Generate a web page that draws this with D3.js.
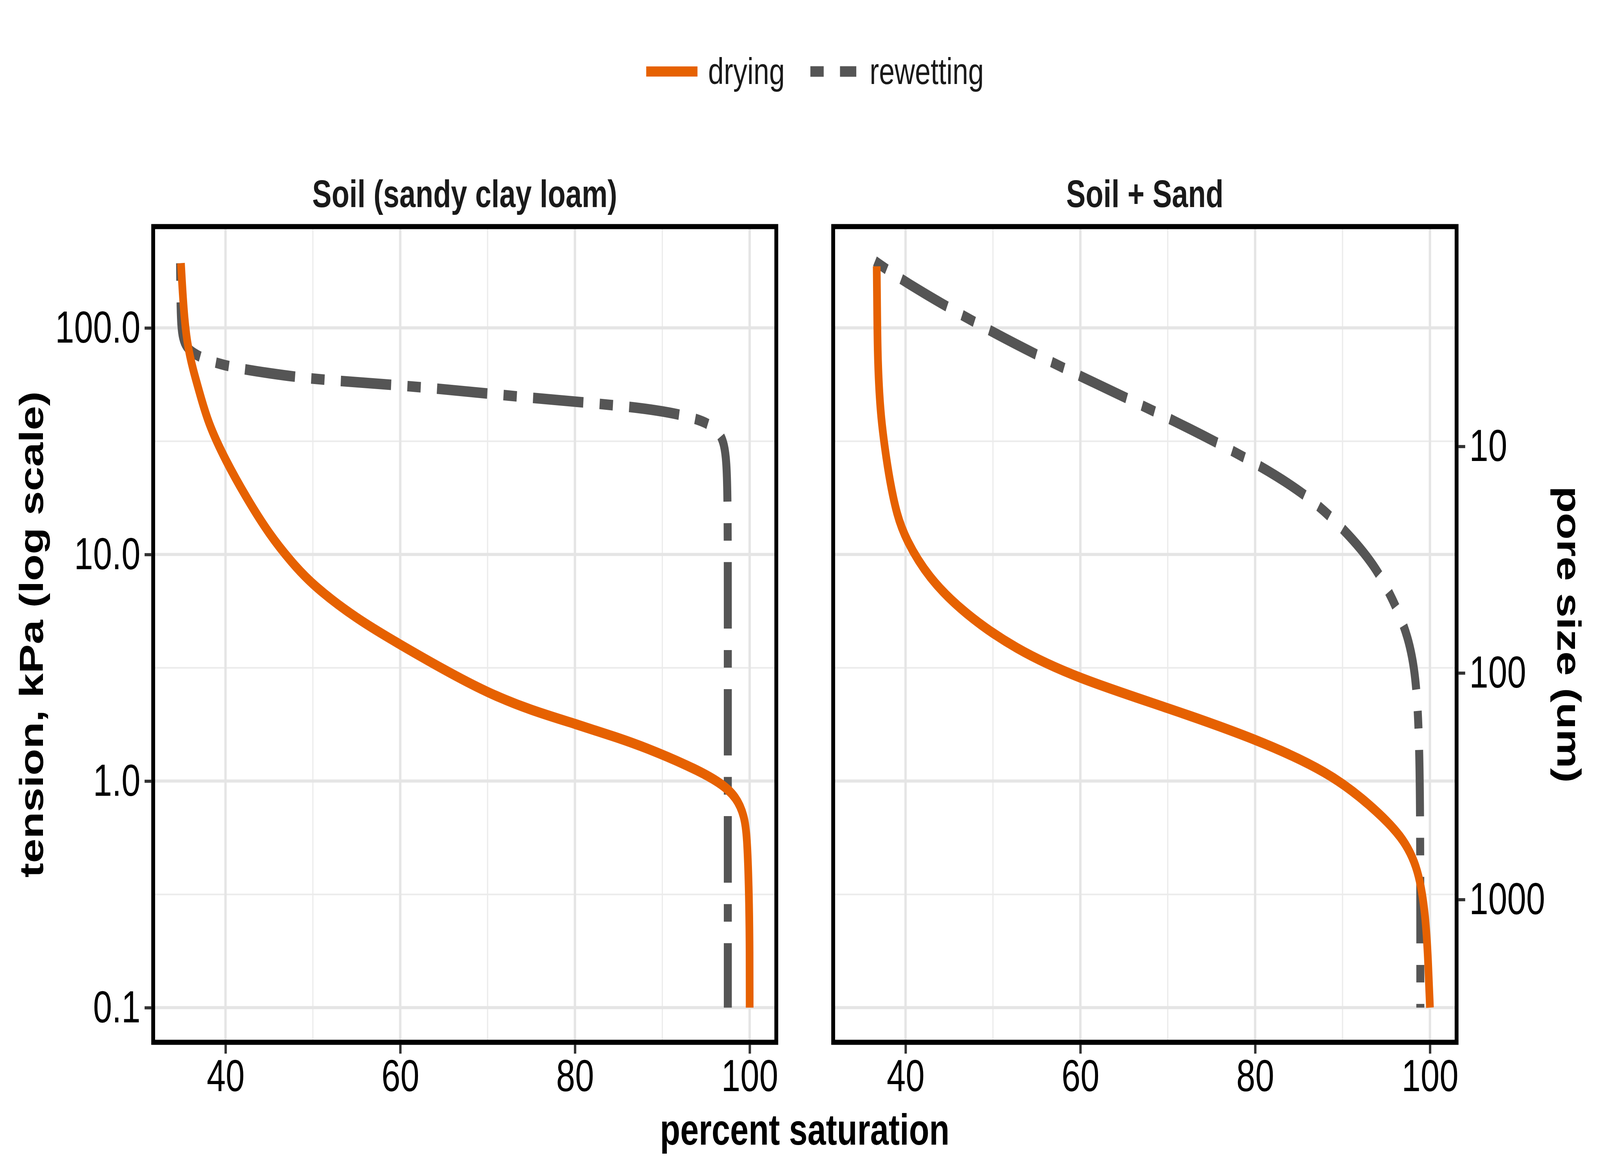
<!DOCTYPE html>
<html><head><meta charset="utf-8">
<script src="https://cdn.jsdelivr.net/npm/d3@7"></script>
<style>html,body{margin:0;padding:0;background:#fff;overflow:hidden}svg{display:block;width:100vw;height:100vh}</style></head>
<body><svg id="c" viewBox="0 0 5400 3000" preserveAspectRatio="none"></svg>
<script>
const panels = ["Soil (sandy clay loam)", "Soil + Sand"];
const seriesNames = ["drying", "rewetting"];
const soilDrying = [[34.9,193],[35.2,120],[35.6,85],[36.3,65],[36.9,54],[38,38],[40,26],[42.5,17.5],[45,12.3],[47.5,9.3],[50,7.3],[55,5.2],[60,4.0],[65,3.1],[70,2.45],[75,2.05],[80,1.79],[85,1.55],[88,1.41],[93,1.17],[96.6,0.99],[98.5,0.85],[99.4,0.7],[99.7,0.57],[99.9,0.35],[100,0.2],[100,0.1]];
const soilRewet = [[34.8,193],[34.85,120],[35,88],[36,77],[39.6,68],[45,63],[50.5,59],[62.7,55],[74.8,49],[86.9,45],[93,41],[96,37],[97.2,31.6],[97.5,21],[97.5,5],[97.5,1],[97.5,0.1]];
const sandDrying = [[36.7,187],[36.75,120],[36.8,79],[36.95,55],[37.2,40],[37.6,30],[38.2,21],[39,15],[40,11.7],[42.6,7.9],[46.7,5.5],[52.5,3.83],[59.7,2.84],[69.9,2.11],[80.4,1.52],[88.5,1.09],[93.1,0.79],[96.9,0.57],[98.7,0.41],[99.5,0.257],[99.8,0.16],[100,0.1]];
const sandRewet = [[36.5,197],[40.6,153],[50.2,94],[60,61],[71.1,38.5],[80.4,25],[86.2,18],[90.2,12.9],[93.7,9.0],[96,6.07],[97.5,4.37],[98.4,2.94],[98.8,1.52],[98.9,0.57],[98.9,0.1]];
const xTicks = [40,60,80,100];
const xMinor = [50,70,90];
const yTicks = [0.1,1,10,100];
const yTickLabels = ["0.1","1.0","10.0","100.0"];
const poreTicks = [10,100,1000];

const ORANGE="#E66101", GRAY="#555555";
const svg=d3.select("#c");
const font="Liberation Sans, Arial, sans-serif";
const PT=580,PB=2668;
const panelX=[[517,2620],[2812,4916]];
const data=[[soilDrying,soilRewet],[sandDrying,sandRewet]];
const y=d3.scaleLog().domain([0.0703,280]).range([PB,PT]);
const dash="45,55,170,55";

panelX.forEach((px,i)=>{
  const x=d3.scaleLinear().domain([31.72,103.05]).range(px);
  const g=svg.append("g");
  xMinor.forEach(v=>g.append("line").attr("x1",x(v)).attr("x2",x(v)).attr("y1",PT).attr("y2",PB).attr("stroke","#ebebeb").attr("stroke-width",4));
  [0.316,3.16,31.6].forEach(v=>g.append("line").attr("x1",px[0]).attr("x2",px[1]).attr("y1",y(v)).attr("y2",y(v)).attr("stroke","#ebebeb").attr("stroke-width",4));
  xTicks.forEach(v=>g.append("line").attr("x1",x(v)).attr("x2",x(v)).attr("y1",PT).attr("y2",PB).attr("stroke","#e5e5e5").attr("stroke-width",8));
  yTicks.forEach(v=>g.append("line").attr("x1",px[0]).attr("x2",px[1]).attr("y1",y(v)).attr("y2",y(v)).attr("stroke","#e5e5e5").attr("stroke-width",8));
  const line=d3.line().x(d=>x(d[0])).y(d=>y(d[1])).curve(d3.curveBasis);
  g.append("path").attr("d",line(data[i][1])).attr("fill","none").attr("stroke",GRAY).attr("stroke-width",27).attr("stroke-dasharray",dash);
  g.append("path").attr("d",line(data[i][0])).attr("fill","none").attr("stroke",ORANGE).attr("stroke-width",26);
  g.append("rect").attr("x",px[0]).attr("y",PT).attr("width",px[1]-px[0]).attr("height",PB-PT).attr("fill","none").attr("stroke","#000").attr("stroke-width",13);
  const xa=g.append("g").attr("transform",`translate(0,${PB+6})`).call(d3.axisBottom(x).tickValues(xTicks).tickSize(23).tickPadding(14));
  xa.select(".domain").remove();
  xa.selectAll("line").attr("stroke","#333").attr("stroke-width",8);
  xa.selectAll("text").attr("font-family",font).attr("font-size",115).attr("fill","#000");
  g.append("text").attr("x",(px[0]+px[1])/2).attr("y",530).attr("text-anchor","middle").attr("font-family",font).attr("font-weight","bold").attr("font-size",98).attr("fill","#1a1a1a").text(panels[i]);
  if(i===0){
    const ya=g.append("g").attr("transform",`translate(${px[0]-6},0)`).call(d3.axisLeft(y).tickValues(yTicks).tickFormat((d,k)=>yTickLabels[k]).tickSize(23).tickPadding(14));
    ya.select(".domain").remove();
    ya.selectAll("line").attr("stroke","#333").attr("stroke-width",8);
    ya.selectAll("text").attr("font-family",font).attr("font-size",115).attr("fill","#000");
  } else {
    const yp=d3.scaleLog().domain([300/0.0703,300/280]).range([PB,PT]);
    const ra=g.append("g").attr("transform",`translate(${px[1]+6},0)`).call(d3.axisRight(yp).tickValues(poreTicks).tickFormat(d3.format("d")).tickSize(23).tickPadding(14));
    ra.select(".domain").remove();
    ra.selectAll("line").attr("stroke","#333").attr("stroke-width",8);
    ra.selectAll("text").attr("font-family",font).attr("font-size",115).attr("fill","#000");
  }
});
svg.append("text").attr("x",2716).attr("y",2930).attr("text-anchor","middle").attr("font-family",font).attr("font-weight","bold").attr("font-size",112).text("percent saturation");
svg.append("text").attr("transform",`translate(145,${(PT+PB)/2}) rotate(-90)`).attr("text-anchor","middle").attr("font-family",font).attr("font-weight","bold").attr("font-size",112).text("tension, kPa (log scale)");
svg.append("text").attr("transform",`translate(5256,${(PT+PB)/2}) rotate(90)`).attr("text-anchor","middle").attr("font-family",font).attr("font-weight","bold").attr("font-size",112).text("pore size (um)");
const leg=svg.append("g");
leg.append("line").attr("x1",2181).attr("x2",2354).attr("y1",183).attr("y2",183).attr("stroke",ORANGE).attr("stroke-width",26);
leg.append("text").attr("x",2390).attr("y",215).attr("font-family",font).attr("font-size",95).attr("fill","#1a1a1a").text(seriesNames[0]);
leg.append("line").attr("x1",2735).attr("x2",2890).attr("y1",183).attr("y2",183).attr("stroke",GRAY).attr("stroke-width",27).attr("stroke-dasharray","45,55,170,55");
leg.append("text").attr("x",2935).attr("y",215).attr("font-family",font).attr("font-size",95).attr("fill","#1a1a1a").text(seriesNames[1]);
</script></body></html>
